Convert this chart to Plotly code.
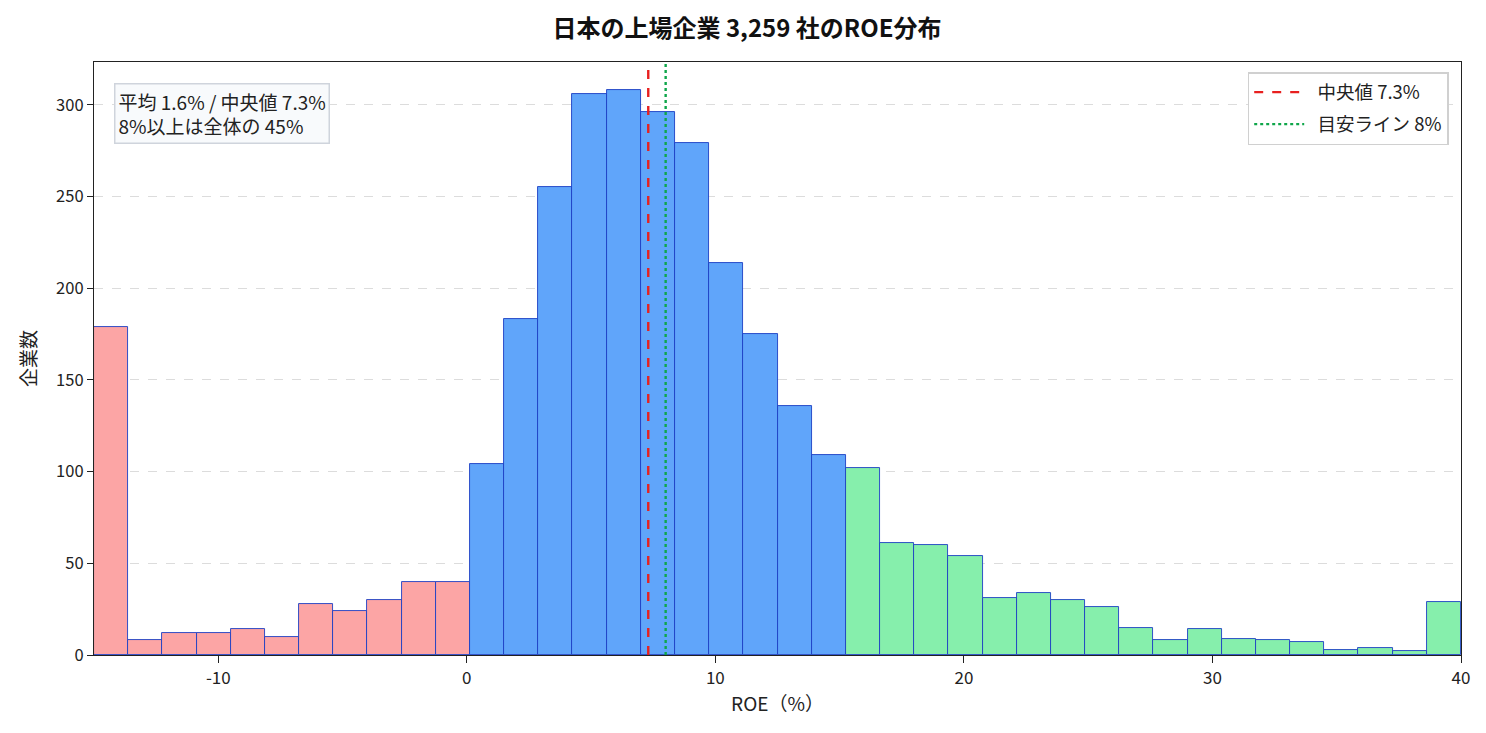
import numpy as np
import plotly.graph_objects as go

# ROE histogram: 40 bins from -15% to 40% (clipped at both ends)
bin_lo, bin_hi = -15, 40
counts = [179, 8, 12, 12, 14, 10, 28, 24, 30, 40, 40,
          104, 183, 255, 306, 308, 296, 279, 214, 175, 136, 109,
          102, 61, 60, 54, 31, 34, 30, 26, 15, 8, 14, 9, 8, 7, 3, 4, 2, 29]
median_roe = 7.3
mean_roe = 1.6
target_roe = 8
share_above = 45
n_companies = 3259
x_ticks = [-10, 0, 10, 20, 30, 40]

edges = np.linspace(bin_lo, bin_hi, len(counts) + 1)
centers = (edges[:-1] + edges[1:]) / 2
width = edges[1] - edges[0]


def bar_color(left):
    if left < 0:
        return "#fca5a5"   # negative ROE
    if left < 15:
        return "#60a5fa"
    return "#86efac"      # high ROE


colors = [bar_color(e) for e in edges[:-1]]

fig = go.Figure()
fig.add_trace(go.Bar(
    x=centers, y=counts, width=width,
    marker=dict(color=colors, line=dict(color="#1d3fc4", width=0.9)),
    showlegend=False, hoverinfo="x+y",
))

pad = "\u00a0\u00a0"
fig.add_shape(type="line", x0=median_roe, x1=median_roe, y0=0, y1=1,
              xref="x", yref="paper",
              line=dict(color="#e8201f", width=2.4, dash="dash"),
              showlegend=True, legendgroup="med", name=f"{pad}中央値 {median_roe}%")
fig.add_shape(type="line", x0=target_roe, x1=target_roe, y0=0, y1=1,
              xref="x", yref="paper",
              line=dict(color="#0fa64a", width=2.4, dash="dot"),
              showlegend=True, legendgroup="tgt", name=f"{pad}目安ライン {target_roe}%")

fig.add_annotation(
    x=0.0146, y=0.965, xref="paper", yref="paper", xanchor="left", yanchor="top",
    text=f"平均 {mean_roe}% / 中央値 {median_roe}%<br>8%以上は全体の {share_above}%",
    showarrow=False, align="left",
    font=dict(size=19, color="#222"),
    bgcolor="#f8fafc", bordercolor="#cfd4dc", borderwidth=1.5, borderpad=3,
)

font = "Noto Sans CJK JP"
fig.update_layout(
    width=1478, height=725,
    margin=dict(l=86, r=25, t=54, b=78),
    paper_bgcolor="white", plot_bgcolor="white",
    font=dict(family=font, size=16, color="#222"),
    title=dict(text=f"<b>日本の上場企業 {n_companies:,} 社のROE分布</b>",
               x=0.5, xanchor="center", y=0.971, yanchor="middle",
               font=dict(size=24, color="#111")),
    bargap=0,
    legend=dict(x=0.991, y=0.983, xanchor="right", yanchor="top",
                bgcolor="white", bordercolor="#d0d0d0", borderwidth=1.5,
                font=dict(size=18.5), tracegroupgap=5, itemwidth=50),
)
fig.update_xaxes(
    range=[bin_lo, bin_hi], tickvals=x_ticks, ticktext=[str(t) for t in x_ticks],
    tickfont=dict(size=17),
    title=dict(text="ROE（%）", font=dict(size=19), standoff=10),
    showline=True, linecolor="#222", linewidth=1.3, mirror=True,
    ticks="outside", ticklen=7, tickcolor="#222", showgrid=False, zeroline=False,
)
fig.update_yaxes(
    range=[0, max(counts) * 1.05], dtick=50, tickfont=dict(size=16.5),
    title=dict(text="企業数", font=dict(size=19), standoff=14),
    showline=True, linecolor="#222", linewidth=1.3, mirror=True,
    ticks="outside", ticklen=6, tickcolor="#222",
    showgrid=True, gridcolor="#dcdcdc", griddash="dash", gridwidth=1, zeroline=False,
)

fig.write_html("out.html")
